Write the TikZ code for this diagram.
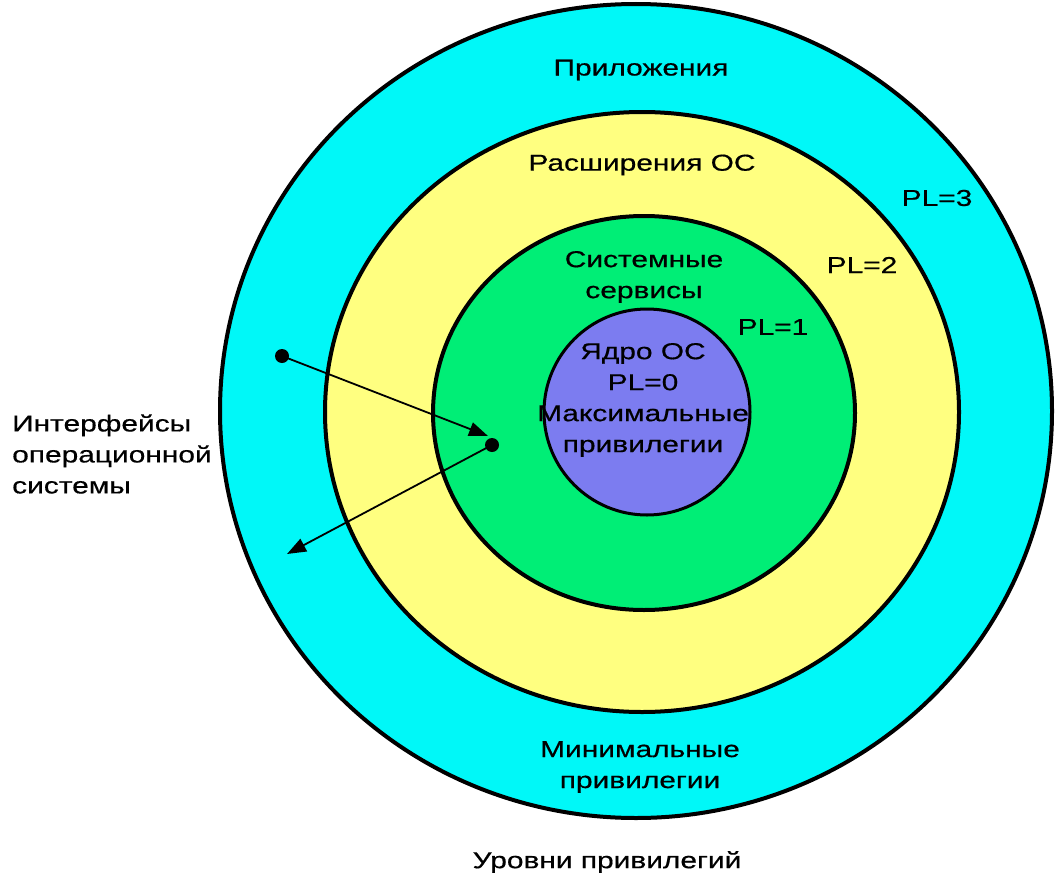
\documentclass[tikz,border=0pt]{standalone}
\usepackage{fontspec}
\setmainfont{Liberation Sans}[FakeStretch=1.3,FakeBold=0.5]
\usetikzlibrary{shapes.geometric,arrows.meta}
\definecolor{ringcyan}{RGB}{0,248,248}
\definecolor{ringyellow}{RGB}{255,255,128}
\definecolor{ringgreen}{RGB}{0,238,118}
\definecolor{ringblue}{RGB}{124,124,240}
\begin{document}
\begin{tikzpicture}[x=1pt,y=-1pt,
  ring/.style={ellipse, draw=black, line width=4pt, inner sep=0pt},
  lbl/.style={font=\fontsize{23}{31}\selectfont, align=center, inner sep=0pt},
  dotnode/.style={circle, fill=black, minimum size=14pt, inner sep=0pt},
  link/.style={line width=1.8pt, -{Triangle[length=19pt,width=14pt]}}]
\useasboundingbox[fill=white] (0,0) rectangle (1057,875);

% privilege rings, outermost first
\node[ring, fill=ringcyan, minimum width=832pt, minimum height=814pt] (apps) at (636,411) {};
\node[ring, fill=ringyellow, minimum width=634pt, minimum height=600pt] (ext) at (642,412) {};
\node[ring, fill=ringgreen, minimum width=422pt, minimum height=394pt] (svc) at (644,413) {};
\node[ring, fill=ringblue, line width=3pt, minimum width=206pt, minimum height=206pt] (core) at (647,412) {};

% ring captions
\node[lbl] (tapps) at (641,70) {Приложения};
\node[lbl] (text) at (642,165) {Расширения ОС};
\node[lbl] (tsvc) at (644,277) {Системные\\сервисы};
\node[lbl] (tcore) at (643,400) {Ядро ОС\\PL=0\\Максимальные\\привилегии};
\node[lbl] (tmin) at (640,767) {Минимальные\\привилегии};
\node[lbl] (pl1) at (773,327) {PL=1};
\node[lbl] (pl2) at (862,265) {PL=2};
\node[lbl] (pl3) at (937,198) {PL=3};
\node[lbl] (title) at (607,862) {Уровни привилегий};
\node[lbl, align=left, anchor=west] (iface) at (12,454) {Интерфейсы\\операционной\\системы};

% interface calls crossing the rings
\node[dotnode] (d1) at (282,356) {};
\coordinate (t1) at (488,436);
\node[dotnode] (d2) at (492,445) {};
\coordinate (t2) at (287,554);
\draw[link] (d1.center) -- (t1);
\draw[link] (d2.center) -- (t2);
\end{tikzpicture}
\end{document}
